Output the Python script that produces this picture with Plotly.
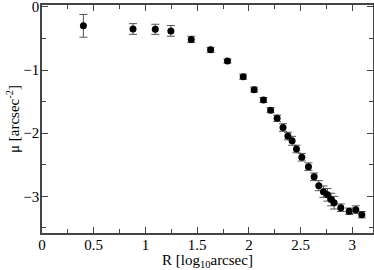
import plotly.graph_objects as go

# Data
log_r = [0.40, 0.88, 1.095, 1.246, 1.443, 1.63, 1.793, 1.945, 2.051, 2.141,
         2.21, 2.273, 2.33, 2.377, 2.418, 2.46, 2.512, 2.576, 2.631, 2.676,
         2.721, 2.76, 2.795, 2.824, 2.889, 2.969, 3.034, 3.092]
mu = [-0.30, -0.35, -0.355, -0.38, -0.515, -0.68, -0.858, -1.105, -1.31, -1.474,
      -1.635, -1.763, -1.91, -2.045, -2.12, -2.25, -2.38, -2.53, -2.69, -2.83,
      -2.925, -2.975, -3.05, -3.10, -3.18, -3.235, -3.21, -3.29]
mu_err = [0.18, 0.085, 0.08, 0.085, 0.05, 0.04, 0.03, 0.04, 0.04, 0.04,
          0.04, 0.05, 0.06, 0.06, 0.07, 0.06, 0.06, 0.06, 0.06, 0.08,
          0.09, 0.1, 0.1, 0.1, 0.06, 0.05, 0.06, 0.05]

fig = go.Figure()
fig.add_trace(go.Scatter(
    x=log_r, y=mu, mode="markers",
    marker=dict(color="black", size=7),
    error_y=dict(type="data", array=mu_err, color="#555555", thickness=1, width=4),
    showlegend=False, hoverinfo="skip",
))

font = dict(family="Liberation Serif", size=15, color="black")
axis_common = dict(
    showline=True, linecolor="#444444", linewidth=1.5, mirror="ticks",
    ticks="inside", ticklen=6, tickcolor="#444444", tickwidth=1,
    showgrid=False, zeroline=False, tickfont=font, ticklabeloverflow="allow",
)
fig.update_xaxes(
    range=[0, 3.2], dtick=0.5, tick0=0,
    minor=dict(dtick=0.25, ticks="inside", ticklen=4, tickcolor="#444444", showgrid=False),
    title=dict(text="R [log<sub>10</sub>arcsec]", font=font, standoff=2),
    ticklabelstandoff=-3,
    **axis_common,
)
fig.update_yaxes(
    range=[-3.58, 0.03], dtick=1, tick0=0,
    minor=dict(dtick=0.5, ticks="inside", ticklen=4, tickcolor="#444444", showgrid=False),
    title=dict(text="μ [arcsec<sup>-2</sup>]", font=font, standoff=0),
    ticklabelstandoff=-2,
    **axis_common,
)
fig.update_layout(
    width=374, height=270,
    margin=dict(l=42, r=1, t=5, b=37, autoexpand=False),
    plot_bgcolor="white", paper_bgcolor="white",
    font=font,
)
fig.write_html("out.html", config={"displayModeBar": False},
               post_script="document.body.style.margin='0';")
